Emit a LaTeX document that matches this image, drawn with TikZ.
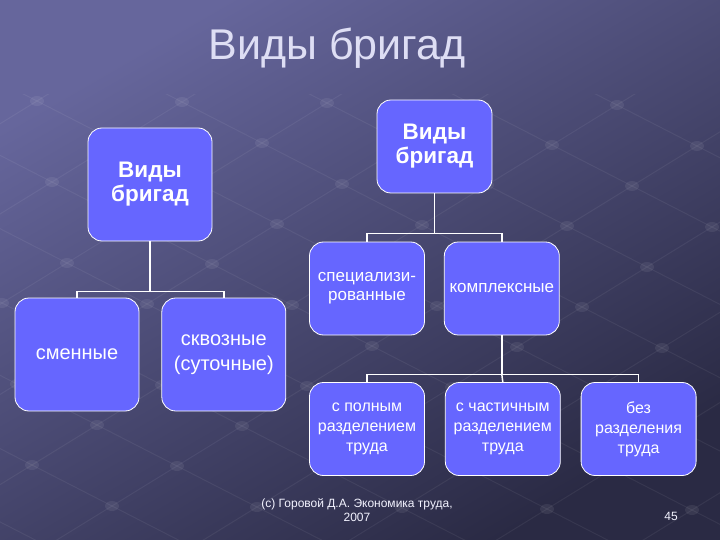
\documentclass[tikz,border=0pt]{standalone}
\usepackage{fontspec}
\setmainfont{Liberation Sans}
\usepackage{tikz}
\usetikzlibrary{positioning,calc}
\definecolor{slidelight}{HTML}{66669C}
\definecolor{slidedark}{HTML}{2A2A44}
\definecolor{boxblue}{HTML}{6666FF}
\definecolor{titlegray}{HTML}{DEDEF4}

\begin{document}
\begin{tikzpicture}[x=1pt, y=-1pt,
    kind/.style={rectangle, rounded corners=14pt, draw=white, line width=0.8pt,
                 fill=boxblue, text=white, align=center, inner sep=2pt},
    kindbig/.style={kind, minimum width=124pt, minimum height=113pt,
                    font=\fontsize{20}{25}\selectfont},
    kindmid/.style={kind, minimum width=115pt, minimum height=93pt,
                    font=\fontsize{17}{19}\selectfont},
    kindlow/.style={kind, minimum width=115pt, minimum height=93pt,
                    font=\fontsize{16}{20}\selectfont},
    kindhead/.style={font=\fontsize{22.5}{24}\selectfont\bfseries},
    link/.style={draw=white, line width=1.5pt},
    gridline/.style={draw=white, opacity=0.06, line width=1pt},
    griddot/.style={fill=white, opacity=0.07},
  ]
  \useasboundingbox (0,0) rectangle (720,540);
  \shade[top color=slidelight, bottom color=slidedark, shading angle=30] (0,0) rectangle (720,540);
  % faint perspective grid of the slide
  \begin{scope}
    \clip (0,95) rectangle (720,540);
    \foreach \i in {-9,...,9} {
      \draw[gridline] (97+80*\i-65*12, 425+41*\i+40*12) -- (97+80*\i+65*12, 425+41*\i-40*12);
      \draw[gridline] (97-80*12+65*\i, 425-41*12-40*\i) -- (97+80*12+65*\i, 425+41*12-40*\i);
      \foreach \j in {-9,...,9}
        \fill[griddot] (97+80*\i+65*\j, 425+41*\i-40*\j) ellipse (7 and 5);
    }
  \end{scope}

  \node[text=titlegray, font=\fontsize{43}{48}\selectfont] (title) at (337,48) {Виды бригад};

  \node[kindbig, kindhead] (vidyA) at (150,184.5) {Виды\\бригад};
  \node[kindbig] (smen) at (77,354.5) {сменные};
  \node[kindbig, right=22pt of smen] (skvoz) {сквозные\\(суточные)};

  \node[kindmid, kindhead] (vidyB) at (434.5,146.5) {Виды\\бригад};
  \node[kindmid] (spec) at (367,288.5) {специализи-\\рованные};
  \node[kindmid, right=19pt of spec] (kompl) {комплексные};

  \node[kindlow] (poln) at (367,429) {с полным\\разделением\\труда};
  \node[kindlow, right=20pt of poln] (chast) {с частичным\\разделением\\труда};
  \node[kindlow, right=20pt of chast] (bez) {без\\разделения\\труда};

  \draw[link] (vidyA.south) -- ++(0,50) coordinate (jA) -| (smen.north);
  \draw[link] (jA) -| (skvoz.north);
  \draw[link] (vidyB.south) -- ++(0,40) coordinate (jB) -| (spec.north);
  \draw[link] (jB) -| (kompl.north);
  \draw[link] (kompl.south) -- ++(0,39) coordinate (jK) -| (poln.north);
  \draw[link] (jK) -- (chast.north);
  \draw[link] (jK) -| (bez.north);

  \node[text=white!92!boxblue, align=center, font=\fontsize{12}{14}\selectfont] (copy) at (357,510)
    {(c) Горовой Д.А. Экономика труда,\\2007};
  \node[text=white!92!boxblue, font=\fontsize{12}{14}\selectfont] (page) at (671,516) {45};
\end{tikzpicture}
\end{document}
